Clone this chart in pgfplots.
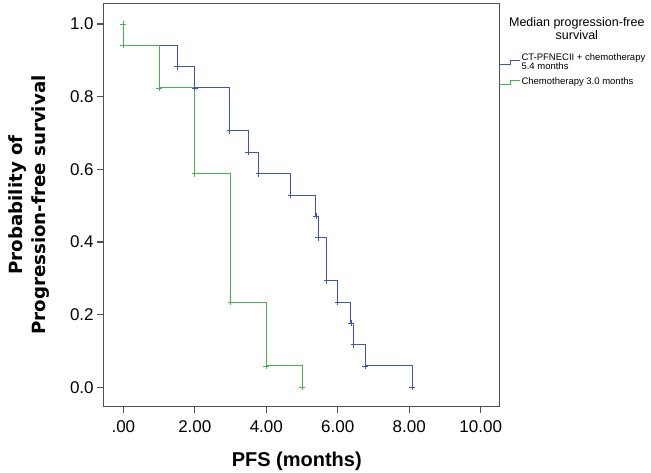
\documentclass[border=0pt]{standalone}
\usepackage{fontspec}
\setmainfont{Liberation Sans}
\newfontfamily\dejavu{DejaVu Sans}
\usepackage{pgfplots}
\pgfplotsset{compat=1.18}
\definecolor{kmblue}{RGB}{62,86,178}
\definecolor{kmgreen}{RGB}{68,180,80}
\definecolor{axgray}{RGB}{80,80,80}
\begin{document}
\begin{tikzpicture}
\path[use as bounding box] (0,0) rectangle (651pt,473pt);
\begin{axis}[
 at={(103.7pt,66.3pt)}, anchor=south west,
 scale only axis, width=395.6pt, height=403.4pt,
 xmin=-0.55, xmax=10.52, ymin=-0.053, ymax=1.057,
 clip=false,
 axis line style={axgray, line width=1.2pt},
 xtick={0,2,4,6,8,10}, xticklabels={.00,2.00,4.00,6.00,8.00,10.00},
 ytick={0,0.2,0.4,0.6,0.8,1.0}, yticklabels={0.0,0.2,0.4,0.6,0.8,1.0},
 tick align=outside, xtick pos=bottom, ytick pos=left, major tick length=6.5pt,
 tick style={axgray, line width=1.2pt},
 ticklabel style={font=\fontsize{17}{17}\selectfont},
 xticklabel style={yshift=-4pt},
 xlabel={PFS (months)},
 xlabel style={font=\fontsize{20}{20}\selectfont\bfseries, at={(axis description cs:0.488,-0.1487)}, anchor=base},
 ylabel={Probability of\\Progression-free survival},
 ylabel style={font=\dejavu\bfseries\fontsize{18.2}{23}\selectfont, align=center, at={(axis description cs:-0.1357,0.5)}, anchor=south, inner sep=0pt},
 legend style={at={(axis description cs:0.9975,0.8818)}, anchor=north west, draw=none, fill=none, inner sep=0pt, font=\fontsize{9.5}{9.5}\selectfont, cells={align=left}, row sep=3pt, nodes={inner xsep=1pt}},
 legend cell align=left,
 legend image code/.code={\draw[#1, line width=1pt] (0pt,-2pt) -- (11pt,-2pt) -- (11pt,2pt) -- (21pt,2pt);},
]
\addplot[kmblue, line width=1pt, no marks] coordinates {
 (0,0.941) (1.51,0.941) (1.51,0.882) (2.0,0.882) (2.0,0.824) (2.98,0.824) (2.98,0.706)
 (3.5,0.706) (3.5,0.647) (3.79,0.647) (3.79,0.588) (4.68,0.588) (4.68,0.529)
 (5.39,0.529) (5.39,0.471) (5.46,0.471) (5.46,0.412) (5.69,0.412) (5.69,0.294)
 (6.0,0.294) (6.0,0.235) (6.37,0.235) (6.37,0.176) (6.45,0.176) (6.45,0.118)
 (6.77,0.118) (6.77,0.059) (8.08,0.059) (8.08,0)};
\addlegendentry{CT-PFNECII + chemotherapy\\5.4 months}
\addplot[kmblue, line width=0.8pt, only marks, mark=+, mark size=3pt, forget plot] coordinates {
 (1.51,0.882) (2.0,0.824) (2.98,0.706) (3.5,0.647) (3.79,0.588) (4.68,0.529)
 (5.39,0.471) (5.46,0.412) (5.69,0.294) (6.0,0.235) (6.37,0.176) (6.45,0.118)
 (6.77,0.059) (8.08,0)};
\addplot[kmgreen, line width=1pt, no marks] coordinates {
 (0,1) (0,0.941) (1.01,0.941) (1.01,0.824) (2.0,0.824) (2.0,0.588) (3.0,0.588)
 (3.0,0.235) (4.0,0.235) (4.0,0.059) (5.0,0.059) (5.0,0)};
\addlegendentry{Chemotherapy 3.0 months}
\addplot[kmgreen, line width=0.8pt, only marks, mark=+, mark size=3pt, forget plot] coordinates {
 (0,1) (0,0.941) (1.01,0.824) (2.0,0.588) (3.0,0.235) (4.0,0.059) (5.0,0)};
\node[font=\fontsize{12.5}{13}\selectfont, align=center, anchor=north, inner sep=0pt] at (axis description cs:1.196,0.966) {Median progression-free\\survival};
\end{axis}
\end{tikzpicture}
\end{document}
